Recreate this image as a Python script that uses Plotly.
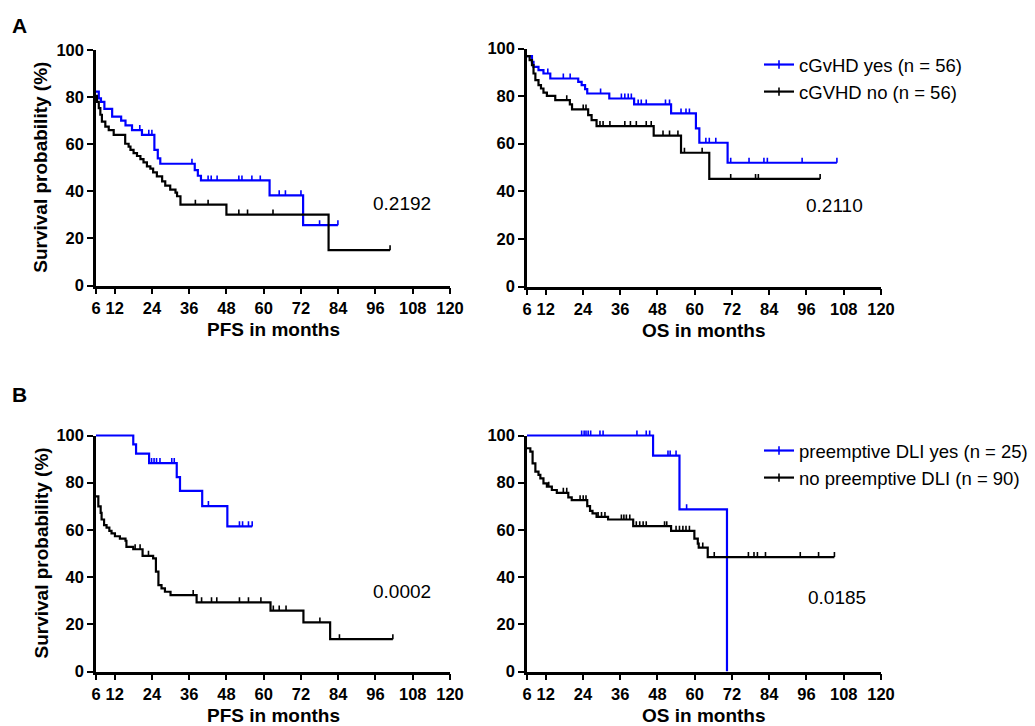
import plotly.graph_objects as go

FONT = "Liberation Sans, Arial, sans-serif"
BLUE = "#0000FF"
BLACK = "#000000"
W, H = 1035, 726

# ---------------- data ----------------
x_ticks = [6, 12, 24, 36, 48, 60, 72, 84, 96, 108, 120]
y_ticks = [0, 20, 40, 60, 80, 100]

# Panel A, PFS, cGvHD yes
a_pfs_yes_t = [6, 6.9, 7.6, 8.7, 11.2, 14.1, 15.5, 17.6, 20.8, 24.8, 25.9, 26.7, 37.8, 38.8, 39.8, 61.9, 72.7]
a_pfs_yes_s = [82.3, 79.5, 78, 75, 71.7, 70, 68, 66, 64, 57.6, 54, 51.7, 49, 46.6, 44.6, 38.3, 25.6]
a_pfs_yes_end = 83.9
a_pfs_yes_cens = [20.1, 23.0, 24.0, 36.9, 42.1, 43.1, 45.0, 52.0, 53.0, 56.2, 58.9, 65.0, 67.0, 72.0, 78.0, 83.9]

# Panel A, PFS, cGVHD no
a_pfs_no_t = [6, 6.3, 6.9, 7.4, 7.9, 9.0, 10.1, 11.7, 15.4, 16.5, 17.1, 18.1, 19.2, 20.3, 21.3, 22.4, 23.5, 24.4,
              25.6, 27.3, 28.3, 29.9, 31.6, 32.1, 33.2, 48.0, 80.9]
a_pfs_no_s = [80.5, 78, 75.3, 72.5, 69.6, 67.5, 66, 64, 60.2, 59, 57.6, 56.2, 55, 53.7, 52.3, 50.6, 49.6, 48,
              46.3, 44.2, 42.4, 40.7, 39.4, 37.9, 34.3, 30.1, 15.0]
a_pfs_no_end = 100.7
a_pfs_no_cens = [38.0, 42.1, 52.0, 54.8, 63.0, 100.7]

# Panel A, OS, cGvHD yes
a_os_yes_t = [6, 7.6, 8.1, 9.7, 11.3, 13.5, 22.5, 23.6, 24.7, 25.4, 32.5, 40.5, 52.4, 60.4, 61.5, 70.6]
a_os_yes_s = [96.8, 94.4, 92.3, 90.9, 89.5, 87.4, 86, 84.6, 82.9, 81.1, 79, 76.5, 72.7, 66.4, 60.4, 52]
a_os_yes_end = 105.8
a_os_yes_cens = [12.7, 17.7, 19.9, 29.7, 36.4, 37.5, 38.6, 39.6, 41.8, 42.8, 44.4, 50.6, 51.9, 55.6, 57.2, 58.3,
                 63.6, 64.7, 66.8, 71.6, 77.5, 82.3, 83.4, 94.6, 105.8]

# Panel A, OS, cGVHD no
a_os_no_t = [6, 6.85, 7.6, 8.1, 8.7, 9.7, 10.5, 11.3, 12.4, 15.1, 19.8, 20.5, 25.7, 26.8, 28.4, 46.8, 55.6, 64.7]
a_os_no_s = [96.8, 95.1, 93, 89.5, 86.7, 84.6, 83.2, 81.5, 80.1, 78.3, 76.5, 74.4, 72, 69.9, 67.4, 63.4, 56.2, 45.2]
a_os_no_end = 100.4
a_os_no_cens = [18.8, 24.1, 25.0, 29.5, 30.5, 32.7, 37.5, 39.3, 41.2, 44.4, 46.0, 49.8, 51.9, 54.6, 56.7, 62.4,
                71.6, 79.6, 80.5, 100.4]

# Panel B, PFS, preemptive DLI yes
b_pfs_yes_t = [6, 18.0, 18.9, 23.1, 32.0, 33.05, 40.2, 48.3]
b_pfs_yes_s = [100, 96.2, 92.3, 88.3, 82.4, 76.5, 70.1, 61.5]
b_pfs_yes_end = 56.3
b_pfs_yes_cens = [23.9, 24.7, 25.5, 26.6, 30.4, 31.2, 42.2, 52.2, 53.2, 55.1, 56.3]

# Panel B, PFS, no preemptive DLI
b_pfs_no_t = [6, 6.75, 7.5, 7.8, 8.6, 9.4, 10.3, 11.0, 12.1, 13.7, 15.5, 15.8, 18.0, 21.0, 24.4, 25.3, 26.1,
              27.1, 28.2, 30.0, 38.4, 62.2, 72.8, 81.4]
b_pfs_no_s = [74.2, 70, 67.2, 64.4, 62, 61, 59.6, 58.5, 57.3, 56.3, 55.4, 52.8, 51.8, 49, 47.9, 42.3, 36.6,
              35.2, 33.8, 32.4, 29.3, 25.8, 20.8, 13.7]
b_pfs_no_end = 101.6
b_pfs_no_cens = [18.6, 20.2, 22.9, 37.3, 40.0, 43.2, 44.9, 52.2, 55.1, 59.1, 63.1, 65.0, 67.2, 78.1, 84.4, 101.6]

# Panel B, OS, preemptive DLI yes
b_os_yes_t = [6, 46.6, 55.1, 70.4]
b_os_yes_s = [100, 91.5, 68.7, 0]
b_os_yes_end = 70.4
b_os_yes_cens = [23.6, 24.4, 25.0, 25.7, 26.5, 29.5, 30.5, 41.4, 44.4, 45.5, 51.4, 52.1, 54.0, 57.4]

# Panel B, OS, no preemptive DLI
b_os_no_t = [6, 7.07, 7.8, 8.7, 9.7, 10.3, 11.3, 12.4, 14.0, 15.6, 19.3, 20.4, 25.4, 26.3, 27.1, 28.4, 32.1,
             40.2, 52.4, 59.9, 61.0, 61.3, 64.2]
b_os_no_s = [94.6, 93.2, 88.2, 84.7, 83.3, 81.8, 79.7, 78.3, 76.9, 75.7, 73.8, 72.6, 70.1, 68.1, 67, 65.5, 64.4,
             61.6, 59.6, 56.3, 54.2, 52.5, 48.5]
b_os_no_end = 105.0
b_os_no_cens = [13.0, 17.7, 18.8, 23.1, 24.1, 25.0, 28.9, 30.0, 31.1, 36.4, 37.2, 38.0, 39.1, 41.2, 42.3, 43.4,
                44.4, 50.3, 51.0, 54.0, 55.1, 56.2, 57.2, 58.3, 62.6, 66.3, 77.3, 79.1, 80.2, 82.8, 94.0, 99.9,
                105.0]

legend_a = ["cGvHD yes (n = 56)", "cGVHD no (n = 56)"]
legend_b = ["preemptive DLI yes (n = 25)", "no preemptive DLI (n = 90)"]
p_values = ["0.2192", "0.2110", "0.0002", "0.0185"]
p_pos = [(104.5, 35), (105, 34), (104.5, 33.8), (105.7, 31.5)]
x_titles = ["PFS in months", "OS in months", "PFS in months", "OS in months"]
y_title = "Survival probability (%)"

# ---------------- helpers ----------------
CENSOR_SIZE = 3.6
CENSOR_LIFT = 1.05  # lift (in % units) so the tick sits above the curve
PAD = 7  # px of extra room above 100 % for the drawing layer


def level_at(t, s, c):
    v = s[0]
    for ti, si in zip(t, s):
        if ti <= c:
            v = si
        else:
            break
    return v


fig = go.Figure()


def add_curve(t, s, end, cens, color, xa, ya, name, legend):
    xs = list(t) + [end]
    ys = list(s) + [s[-1]]
    fig.add_trace(go.Scatter(x=xs, y=ys, mode="lines", line=dict(color=color, width=2.2, shape="hv"),
                             xaxis=xa, yaxis=ya, showlegend=False, hoverinfo="skip"))
    cy = [level_at(t, s, c) + CENSOR_LIFT for c in cens]
    fig.add_trace(go.Scatter(x=cens, y=cy, mode="markers",
                             marker=dict(symbol="line-ns", size=CENSOR_SIZE, color=color,
                                         line=dict(color=color, width=1.6)),
                             xaxis=xa, yaxis=ya, showlegend=False, hoverinfo="skip"))
    if name is not None:
        fig.add_trace(go.Scatter(x=[None], y=[None], mode="lines+markers", name=name,
                                 line=dict(color=color, width=2.2),
                                 marker=dict(symbol="line-ns", size=6, color=color,
                                             line=dict(color=color, width=1.6)),
                                 xaxis=xa, yaxis=ya, legend=legend, showlegend=True))


# traces are drawn on hidden y axes y5..y8 whose area reaches a few px above 100 %
add_curve(a_pfs_yes_t, a_pfs_yes_s, a_pfs_yes_end, a_pfs_yes_cens, BLUE, "x", "y5", None, None)
add_curve(a_pfs_no_t, a_pfs_no_s, a_pfs_no_end, a_pfs_no_cens, BLACK, "x", "y5", None, None)
add_curve(a_os_yes_t, a_os_yes_s, a_os_yes_end, a_os_yes_cens, BLUE, "x2", "y6", legend_a[0], "legend")
add_curve(a_os_no_t, a_os_no_s, a_os_no_end, a_os_no_cens, BLACK, "x2", "y6", legend_a[1], "legend")
add_curve(b_pfs_yes_t, b_pfs_yes_s, b_pfs_yes_end, b_pfs_yes_cens, BLUE, "x3", "y7", None, None)
add_curve(b_pfs_no_t, b_pfs_no_s, b_pfs_no_end, b_pfs_no_cens, BLACK, "x3", "y7", None, None)
add_curve(b_os_yes_t, b_os_yes_s, b_os_yes_end, b_os_yes_cens, BLUE, "x4", "y8", legend_b[0], "legend2")
add_curve(b_os_no_t, b_os_no_s, b_os_no_end, b_os_no_cens, BLACK, "x4", "y8", legend_b[1], "legend2")


def px_x(p):
    return p / W


def px_y(p):
    return 1 - p / H


tickfont = dict(family=FONT, size=16.5, color="black", weight="bold")
axis_common = dict(showline=True, linewidth=2.5, linecolor="black", ticks="outside", ticklen=6,
                   tickwidth=2, tickcolor="black", showgrid=False, zeroline=False, tickfont=tickfont,
                   fixedrange=True)

# pixel boxes (left, right, top, bottom) of each panel
boxes = [(96, 450, 50, 285.5), (527, 881, 48.5, 286.5), (96, 450, 435.5, 671.5), (527, 881, 435.5, 671.5)]
layout = {}
for i, (l, r, tp, bt) in enumerate(boxes):
    k = "" if i == 0 else str(i + 1)
    layout["xaxis" + k] = dict(axis_common, domain=[px_x(l), px_x(r)], range=[6, 120],
                               tickvals=x_ticks, ticktext=[str(v) for v in x_ticks], anchor="y" + k)
    layout["yaxis" + k] = dict(axis_common, domain=[px_y(bt), px_y(tp)], range=[0, 100],
                               tickvals=y_ticks, ticktext=[str(v) for v in y_ticks], anchor="x" + k)
    layout["yaxis" + str(i + 5)] = dict(visible=False, domain=[px_y(bt), px_y(tp - PAD)],
                                        range=[0, 100 + PAD * 100 / (bt - tp)], anchor="x" + k,
                                        fixedrange=True)

annotations = []
# p-values
for i, (txt, (px, py)) in enumerate(zip(p_values, p_pos)):
    k = "" if i == 0 else str(i + 1)
    annotations.append(dict(text=txt, x=px, y=py, xref="x" + k, yref="y" + k, showarrow=False,
                            xanchor="center", yanchor="middle",
                            font=dict(family=FONT, size=19, color="black")))
# x titles
for i, txt in enumerate(x_titles):
    l, r, tp, bt = boxes[i]
    annotations.append(dict(text=txt, x=px_x((l + r) / 2), y=px_y(bt + 44), xref="paper", yref="paper",
                            showarrow=False, xanchor="center", yanchor="middle",
                            font=dict(family=FONT, size=19, color="black", weight="bold")))
# y titles
for i in (0, 2):
    l, r, tp, bt = boxes[i]
    annotations.append(dict(text=y_title, x=px_x(41), y=px_y((tp + bt) / 2), xref="paper", yref="paper",
                            showarrow=False, xanchor="center", yanchor="middle", textangle=-90,
                            font=dict(family=FONT, size=19, color="black", weight="bold")))
# panel letters
for letter, py in (("A", 25.5), ("B", 394.5)):
    annotations.append(dict(text=letter, x=px_x(19), y=px_y(py), xref="paper", yref="paper",
                            showarrow=False, xanchor="center", yanchor="middle",
                            font=dict(family=FONT, size=21, color="black", weight="bold")))

legend_font = dict(family=FONT, size=18.5, color="black")
fig.update_layout(
    width=W, height=H,
    margin=dict(l=0, r=0, t=0, b=0, autoexpand=False),
    paper_bgcolor="white", plot_bgcolor="white",
    annotations=annotations,
    legend=dict(x=px_x(759), y=px_y(46), xanchor="left", yanchor="top", font=legend_font,
                bgcolor="rgba(0,0,0,0)", borderwidth=0, tracegroupgap=0),
    legend2=dict(x=px_x(759), y=px_y(432), xanchor="left", yanchor="top", font=legend_font,
                 bgcolor="rgba(0,0,0,0)", borderwidth=0, tracegroupgap=0),
    **layout,
)

fig.write_html("out.html")
